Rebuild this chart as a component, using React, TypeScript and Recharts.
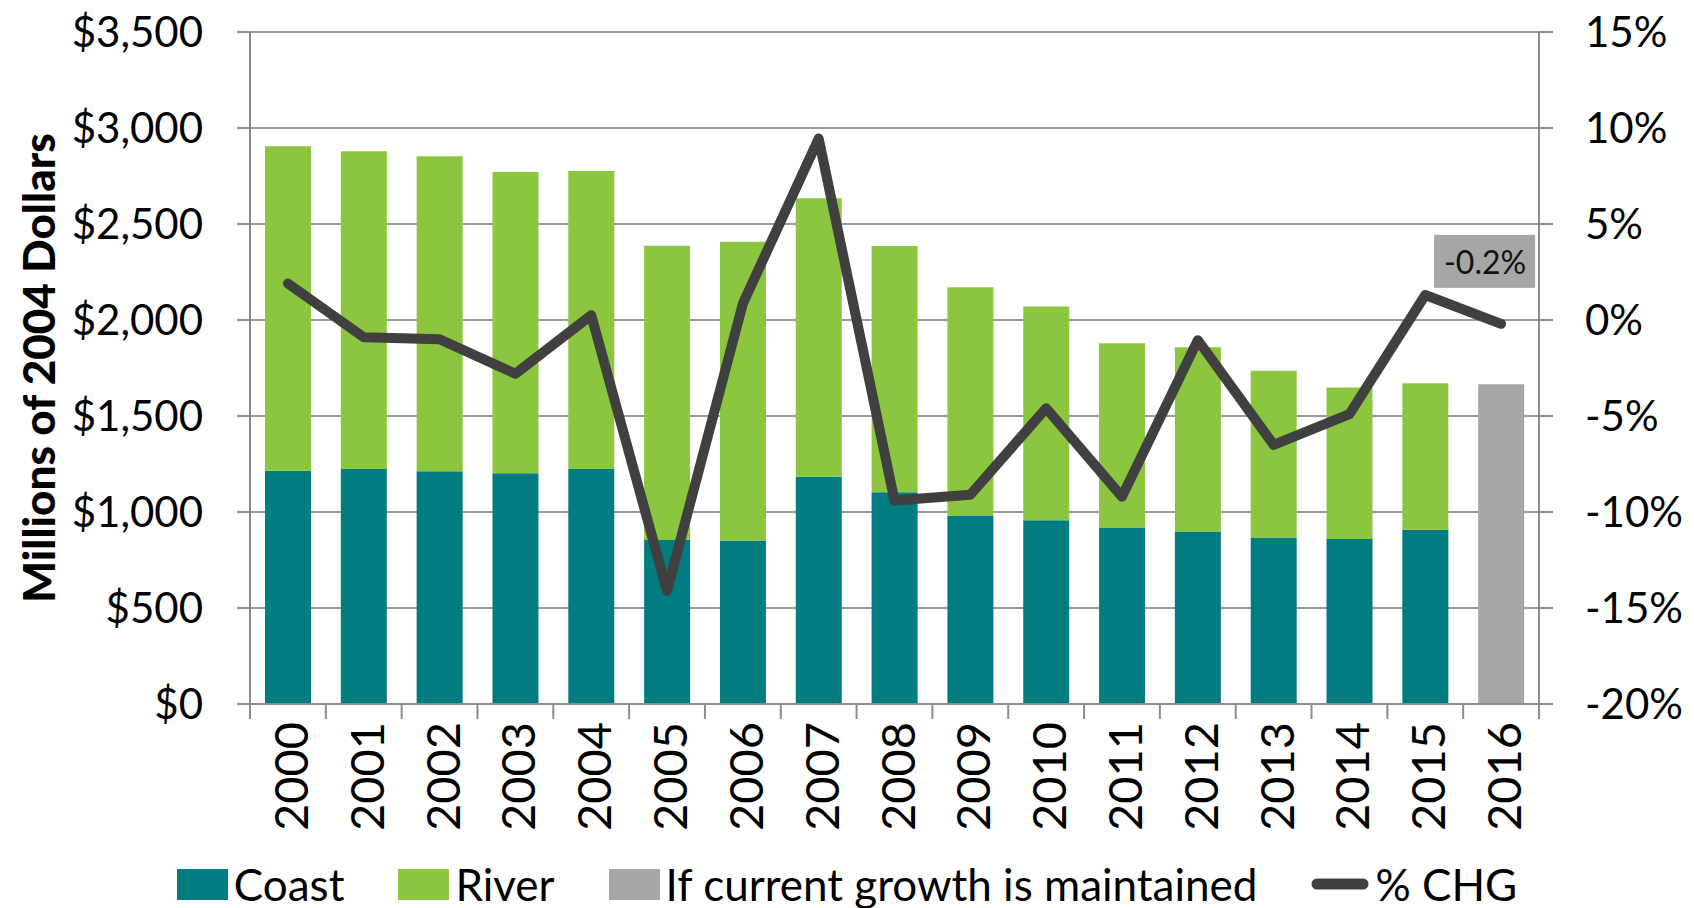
import React from "react";
import { ComposedChart, Bar, Line, XAxis, YAxis, CartesianGrid, Legend, LabelList } from "recharts";

const years = ["2000", "2001", "2002", "2003", "2004", "2005", "2006", "2007", "2008", "2009", "2010", "2011", "2012", "2013", "2014", "2015", "2016"];
const coast = [1215, 1224, 1212, 1202, 1224, 854, 851, 1184, 1103, 979, 957, 919, 899, 865, 859, 908, null];
const river = [1690, 1655, 1641, 1569, 1552, 1533, 1557, 1450, 1282, 1191, 1113, 960, 959, 871, 790, 762, null];
const projected = [null, null, null, null, null, null, null, null, null, null, null, null, null, null, null, null, 1665];
const pctChg = [1.9, -0.9, -1.0, -2.8, 0.25, -14.1, 0.85, 9.45, -9.4, -9.1, -4.6, -9.2, -1.05, -6.5, -4.9, 1.3, -0.2];
const leftTicks = [0, 500, 1000, 1500, 2000, 2500, 3000, 3500];
const rightTicks = [-20, -15, -10, -5, 0, 5, 10, 15];

const data = years.map((year, i) => ({
  year,
  coast: coast[i],
  river: river[i],
  projected: projected[i],
  pct: pctChg[i],
}));

const W = 1694;
const H = 908;
const LEFT_W = 250;
const RIGHT_W = 155;
const BAND = (W - LEFT_W - RIGHT_W) / years.length;
const FONT = "Lato, 'Open Sans', sans-serif";

const TEAL = "#017c81";
const GREEN = "#8cc63f";
const GREY = "#a6a6a6";
const LINE = "#404040";
const AXIS = "#8c8c8c";

function YearTick(props: any) {
  const { x, y, payload, index } = props;
  const lx = x - BAND / 2;
  const rx = x + BAND / 2;
  return (
    <g>
      <line x1={lx} y1={y} x2={lx} y2={y + 15} stroke={AXIS} strokeWidth={2} />
      {index === years.length - 1 && <line x1={rx} y1={y} x2={rx} y2={y + 15} stroke={AXIS} strokeWidth={2} />}
      <text
        x={x + 2}
        y={y + 18}
        transform={`rotate(-90 ${x + 2} ${y + 18})`}
        textAnchor="end"
        dominantBaseline="central"
        fontSize={47}
        fontFamily={FONT}
        fill="#000"
      >
        {payload.value}
      </text>
    </g>
  );
}

function PctLabel(props: any) {
  const { x, y, value, index } = props;
  if (index !== years.length - 1) return null;
  return (
    <g>
      <rect x={x - 67} y={y - 89} width={101} height={53} fill={GREY} />
      <text x={x - 16} y={y - 62} textAnchor="middle" dominantBaseline="central" fontSize={32} fontFamily={FONT} fill="#111">
        {`${value}%`}
      </text>
    </g>
  );
}

function LegendBox() {
  const items = [
    { label: "Coast", color: TEAL, kind: "rect" },
    { label: "River", color: GREEN, kind: "rect" },
    { label: "If current growth is maintained", color: GREY, kind: "rect" },
    { label: "% CHG", color: LINE, kind: "line" },
  ];
  return (
    <div style={{ display: "flex", justifyContent: "center", alignItems: "center", gap: 54, fontFamily: FONT, fontSize: 44, color: "#000" }}>
      {items.map((it) => (
        <div key={it.label} style={{ display: "flex", alignItems: "center", gap: 6 }}>
          {it.kind === "rect" ? (
            <div style={{ width: 51, height: 31, background: it.color }} />
          ) : (
            <svg width={58} height={30}>
              <line x1={6} y1={15} x2={52} y2={15} stroke={it.color} strokeWidth={11} strokeLinecap="round" />
            </svg>
          )}
          <span style={{ whiteSpace: "nowrap" }}>{it.label}</span>
        </div>
      ))}
    </div>
  );
}

export default function App() {
  return (
    <div style={{ position: "absolute", left: 0, top: 0, width: W, height: H, background: "#fff" }}>
      <ComposedChart width={W} height={H} data={data} margin={{ top: 32, right: 0, left: 0, bottom: 0 }}>
        <CartesianGrid yAxisId="left" vertical={false} stroke="#9a9a9a" strokeWidth={2} />
        <XAxis
          dataKey="year"
          height={204}
          tickLine={false}
          tickSize={0}
          tickMargin={0}
          axisLine={{ stroke: AXIS, strokeWidth: 2 }}
          tick={<YearTick />}
          interval={0}
        />
        <YAxis
          yAxisId="left"
          width={LEFT_W}
          domain={[0, 3500]}
          ticks={leftTicks}
          tickFormatter={(v: number) => `$${v.toLocaleString("en-US")}`}
          tick={{ fontSize: 42, fontFamily: FONT, fill: "#000" }}
          tickSize={13}
          tickMargin={34}
          tickLine={{ stroke: AXIS, strokeWidth: 2 }}
          axisLine={{ stroke: AXIS, strokeWidth: 2 }}
          label={{
            content: (p: any) => {
              const vb = p.viewBox;
              const cx = 38;
              const cy = vb.y + vb.height / 2;
              return (
                <text x={cx} y={cy} transform={`rotate(-90 ${cx} ${cy})`} textAnchor="middle" dominantBaseline="central" fontSize={44} fontWeight={900} fontFamily={FONT} fill="#000">
                  Millions of 2004 Dollars
                </text>
              );
            },
          }}
        />
        <YAxis
          yAxisId="right"
          orientation="right"
          width={RIGHT_W}
          domain={[-20, 15]}
          ticks={rightTicks}
          tickFormatter={(v: number) => `${v}%`}
          tick={{ fontSize: 42, fontFamily: FONT, fill: "#000", textAnchor: "start" }}
          tickSize={14}
          tickMargin={32}
          tickLine={{ stroke: AXIS, strokeWidth: 2 }}
          axisLine={{ stroke: AXIS, strokeWidth: 2 }}
        />
        <Bar yAxisId="left" dataKey="coast" name="Coast" stackId="a" fill={TEAL} barSize={46} isAnimationActive={false} />
        <Bar yAxisId="left" dataKey="river" name="River" stackId="a" fill={GREEN} barSize={46} isAnimationActive={false} />
        <Bar yAxisId="left" dataKey="projected" name="If current growth is maintained" stackId="a" fill={GREY} barSize={46} isAnimationActive={false} />
        <Line
          yAxisId="right"
          dataKey="pct"
          name="% CHG"
          type="linear"
          stroke={LINE}
          strokeWidth={10}
          strokeLinejoin="round"
          strokeLinecap="round"
          dot={false}
          activeDot={false}
          isAnimationActive={false}
        >
          <LabelList dataKey="pct" content={<PctLabel />} />
        </Line>
        <Legend verticalAlign="middle" wrapperStyle={{ top: 858, left: 0, width: W }} content={<LegendBox />} />
      </ComposedChart>
    </div>
  );
}
